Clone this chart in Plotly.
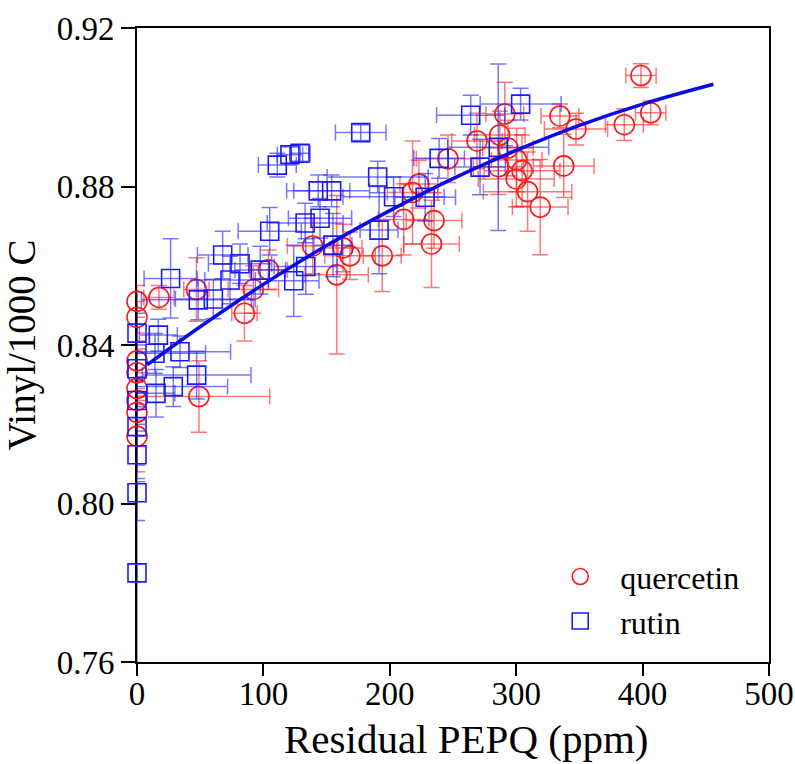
import plotly.graph_objects as go

# quercetin (red circles)
q_x = [0, 0, 0, 0, 0, 0, 0, 0, 17.4, 47, 49, 85, 92, 104, 139, 158, 163, 168.5, 194,
       211, 218, 223, 233, 235, 246, 269, 286, 287, 291, 293.5, 300, 300.4, 304.6,
       309, 319, 334.6, 337.6, 347.3, 385.5, 398.7, 406.4]
q_y = [0.851, 0.847, 0.836, 0.833, 0.829, 0.826, 0.823, 0.817, 0.852, 0.854, 0.827,
       0.848, 0.854, 0.859, 0.865, 0.8577, 0.8645, 0.8625, 0.8625, 0.8717, 0.8785,
       0.8806, 0.8655, 0.8714, 0.887, 0.8915, 0.885, 0.893, 0.8983, 0.8897, 0.8819,
       0.8867, 0.884, 0.8787, 0.8748, 0.8978, 0.8852, 0.8945, 0.8956, 0.908, 0.8986]
q_ex = [0, 0, 0, 0, 0, 0, 0, 0, 12, 10, 56, 10, 20, 15, 20, 25, 15, 20, 15,
        20, 20, 15, 22, 22, 25, 20, 20, 20, 15, 20, 30, 20, 30,
        35, 22, 15, 24, 25, 15, 12, 12]
q_ey = [0.004, 0.004, 0.005, 0.006, 0.004, 0.005, 0.006, 0.009, 0.003, 0.008, 0.009,
        0.007, 0.006, 0.005, 0.007, 0.020, 0.006, 0.006, 0.009, 0.009, 0.013,
        0.006, 0.011, 0.007, 0.006, 0.007, 0.007, 0.006, 0.008, 0.007, 0.007,
        0.008, 0.009, 0.010, 0.012, 0.003, 0.008, 0.004, 0.004, 0.003, 0.003]

# rutin (blue squares)
r_x = [0, 0, 0, 0, 0, 0, 0, 16.9, 14.2, 15, 26.6, 34, 28.7, 47.2, 48.5, 60.4, 67.8,
       73.6, 81.5, 97.5, 105, 111, 121, 129, 124, 133.5, 133, 143.4, 144.8, 154,
       155, 177, 190.4, 191.5, 203, 228, 239, 264, 271.4, 285.8, 303.5]
r_y = [0.7825, 0.8027, 0.8123, 0.8194, 0.826, 0.834, 0.843, 0.8425, 0.8379, 0.8278,
       0.8568, 0.8383, 0.8295, 0.8324, 0.8514, 0.8516, 0.8627, 0.8564, 0.8605,
       0.8589, 0.8687, 0.8854, 0.888, 0.8884, 0.8562, 0.8598, 0.8708, 0.8789,
       0.872, 0.8789, 0.8652, 0.8936, 0.8824, 0.869, 0.8774, 0.8773, 0.8871,
       0.898, 0.8849, 0.8899, 0.9008]
r_ex = [0, 0, 0, 0, 0, 0, 0, 15, 40, 15, 21, 40, 43, 43, 45, 30, 20,
        20, 25, 20, 25, 15, 10, 8, 20, 25, 30, 25, 25, 30,
        15, 20, 40, 15, 40, 24, 20, 27, 20, 40, 32]
r_ey = [0.023, 0.007, 0.006, 0.005, 0.006, 0.006, 0.005, 0.004, 0.005, 0.006,
        0.010, 0.004, 0.005, 0.006, 0.005, 0.005, 0.006, 0.006, 0.005,
        0.006, 0.006, 0.003, 0.002, 0.002, 0.009, 0.007, 0.005, 0.004,
        0.005, 0.004, 0.008, 0.002, 0.004, 0.011, 0.005, 0.006, 0.005,
        0.005, 0.007, 0.021, 0.004]

# fitted curve
fit_x = [8, 50, 100, 150, 200, 250, 300, 350, 400, 456]
fit_y = [0.835, 0.8446, 0.8553, 0.8651, 0.8739, 0.8820, 0.8891, 0.8954, 0.9008, 0.9058]

x_ticks = [0, 100, 200, 300, 400, 500]
y_ticks = [0.76, 0.80, 0.84, 0.88, 0.92]

RED = "#ff1a1a"
BLUE = "#1a1aff"
FONT = "Liberation Serif"

fig = go.Figure()
fig.add_trace(go.Scatter(
    x=q_x, y=q_y, mode="markers", name="quercetin", cliponaxis=False,
    marker=dict(symbol="circle-open", size=20, color=RED, line=dict(width=1.6, color=RED)),
    error_x=dict(type="data", array=q_ex, color="rgba(255,30,30,0.6)", thickness=1.5, width=8),
    error_y=dict(type="data", array=q_ey, color="rgba(255,30,30,0.6)", thickness=1.5, width=8),
))
fig.add_trace(go.Scatter(
    x=r_x, y=r_y, mode="markers", name="rutin", cliponaxis=False,
    marker=dict(symbol="square-open", size=18, color=BLUE, line=dict(width=1.6, color=BLUE)),
    error_x=dict(type="data", array=r_ex, color="rgba(30,30,255,0.6)", thickness=1.5, width=8),
    error_y=dict(type="data", array=r_ey, color="rgba(30,30,255,0.6)", thickness=1.5, width=8),
))
fig.add_trace(go.Scatter(
    x=fit_x, y=fit_y, mode="lines", showlegend=False,
    line=dict(color="#0a0ae6", width=3.5, shape="spline"),
))

axis_common = dict(
    showgrid=False, zeroline=False, showline=True, linecolor="black", linewidth=2,
    mirror=True, ticks="outside", tickwidth=2, tickcolor="black",
    tickfont=dict(family=FONT, size=33, color="black"), automargin=False,
    layer="below traces",
)
fig.update_xaxes(range=[0, 500], tickvals=x_ticks, ticktext=[str(v) for v in x_ticks],
                 ticklen=12, ticklabelstandoff=-11, **axis_common)
fig.update_yaxes(range=[0.76, 0.92], tickvals=y_ticks, ticktext=["%.2f" % v for v in y_ticks],
                 ticklen=14,
                 title=dict(text="Vinyl/1000 C", font=dict(family=FONT, size=39, color="black"), standoff=12),
                 **axis_common)

fig.add_annotation(text="Residual PEPQ (ppm)", xref="paper", yref="paper",
                   x=0.52, y=-0.122, xanchor="center", yanchor="middle", showarrow=False,
                   font=dict(family=FONT, size=41, color="black"))

fig.update_layout(
    width=795, height=764,
    margin=dict(l=137, r=26, t=28, b=102),
    plot_bgcolor="white", paper_bgcolor="white",
    legend=dict(x=0.638, y=0.178, xanchor="left", yanchor="top", bgcolor="rgba(0,0,0,0)",
                font=dict(family=FONT, size=32, color="black"), itemwidth=70, tracegroupgap=0),
)

fig.write_html("out.html")
